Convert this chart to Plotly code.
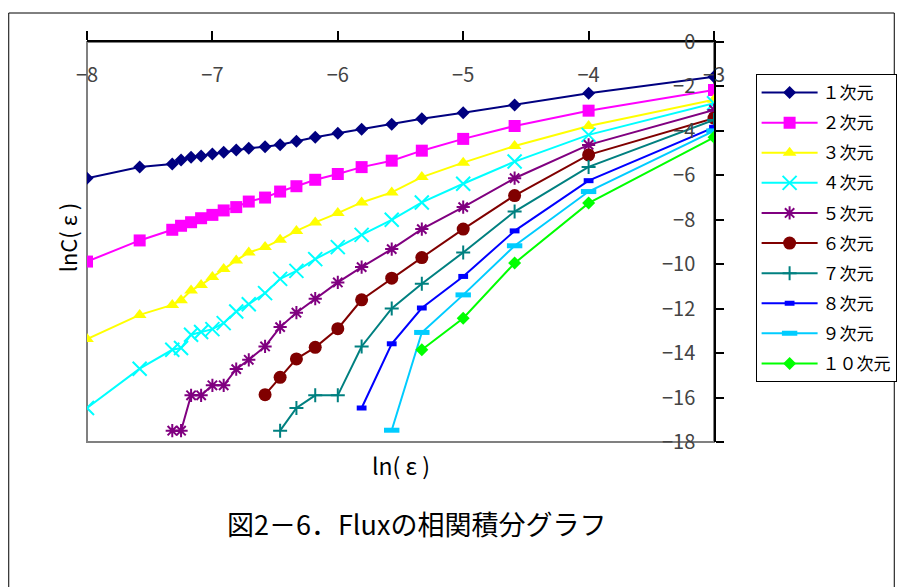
import plotly.graph_objects as go

# ln(epsilon) grid shared by all embedding dimensions
LN_EPS = [-8.00, -7.58, -7.32, -7.25, -7.17, -7.09, -7.00, -6.91, -6.81, -6.71,
          -6.58, -6.46, -6.33, -6.18, -6.00, -5.81, -5.57, -5.33, -5.00, -4.59,
          -4.00, -3.00]

# lnC(epsilon) per embedding dimension (each series ends at the last grid point)
DIM1 = [-6.13, -5.63, -5.49, -5.31, -5.19, -5.13, -5.04, -4.96, -4.86, -4.78,
        -4.71, -4.62, -4.47, -4.29, -4.11, -3.93, -3.70, -3.45, -3.18, -2.83,
        -2.31, -1.56]
DIM2 = [-9.88, -8.93, -8.45, -8.27, -8.11, -7.93, -7.78, -7.58, -7.43, -7.18,
        -7.00, -6.73, -6.49, -6.20, -5.94, -5.63, -5.34, -4.89, -4.36, -3.78,
        -3.09, -2.16]
DIM3 = [-13.37, -12.28, -11.83, -11.62, -11.18, -10.93, -10.58, -10.22, -9.83, -9.47,
        -9.23, -8.90, -8.50, -8.12, -7.70, -7.22, -6.77, -6.08, -5.43, -4.68,
        -3.78, -2.60]
DIM4 = [-16.47, -14.70, -13.85, -13.77, -13.17, -13.05, -12.92, -12.65, -12.13, -11.80,
        -11.30, -10.66, -10.30, -9.77, -9.23, -8.68, -8.00, -7.22, -6.38, -5.38,
        -4.18, -2.76]
DIM5 = [-17.49, -17.49, -15.90, -15.90, -15.45, -15.45, -14.72, -14.30, -13.70, -12.83,
        -12.18, -11.55, -10.82, -10.13, -9.32, -8.42, -7.43, -6.13, -4.63, -3.06]
DIM6 = [-15.87, -15.09, -14.26, -13.74, -12.90, -11.60, -10.63, -9.70, -8.42, -6.91,
        -5.08, -3.43]
DIM7 = [-17.49, -16.47, -15.90, -15.90, -13.70, -11.99, -10.88, -9.47, -7.63, -5.62,
        -3.51]
DIM8 = [-16.47, -13.58, -11.97, -10.55, -8.50, -6.24, -3.84]
DIM9 = [-17.47, -13.07, -11.38, -9.17, -6.73, -4.00]
DIM10 = [-13.85, -12.43, -9.95, -7.25, -4.29]

NAMES = ["１次元", "２次元", "３次元", "４次元", "５次元",
         "６次元", "７次元", "８次元", "９次元", "１０次元"]
SERIES = [DIM1, DIM2, DIM3, DIM4, DIM5, DIM6, DIM7, DIM8, DIM9, DIM10]

X_TICKS = [-8, -7, -6, -5, -4, -3]
Y_TICKS = [0, -2, -4, -6, -8, -10, -12, -14, -16, -18]

# marker styles: (colour, symbol, size, outline width)
STYLES = [
    ("#000080", "diamond", 10, 0),
    ("#FF00FF", "square", 12, 0),
    ("#FFFF00", "triangle-up", 12, 0),
    ("#00FFFF", "x-thin", 14, 2),
    ("#800080", "asterisk-open", 11, 2),
    ("#800000", "circle", 13, 0),
    ("#008080", "cross-thin", 10, 2),
    ("#0000FF", "line-ew", 7, 5),
    ("#00CCFF", "line-ew", 11, 5),
    ("#00FF00", "diamond", 10, 0),
]

W, H = 909, 587
L, R, T, B = 87, 189, 42, 145
FONT = "Noto Sans CJK JP"


def px(x):
    return (x - L) / (W - L - R)


def py(y):
    return (H - B - y) / (H - T - B)


fig = go.Figure()
for name, vals, (col, sym, size, lw) in zip(NAMES, SERIES, STYLES):
    xs = LN_EPS[len(LN_EPS) - len(vals):]
    fig.add_trace(go.Scatter(
        x=xs, y=vals, name=name, legendgroup=name, mode="lines+markers",
        line=dict(color=col, width=2),
        marker=dict(symbol=sym, size=size, color=col,
                    line=dict(color=col, width=lw)),
    ))

fig.update_layout(
    width=W, height=H,
    margin=dict(l=L, r=R, t=T, b=B),
    paper_bgcolor="white", plot_bgcolor="white",
    font=dict(family=FONT, color="black", size=20),
    showlegend=True,
    legend=dict(
        x=px(762), y=py(74), xanchor="left", yanchor="top",
        bordercolor="black", borderwidth=1, bgcolor="white",
        font=dict(family=FONT, size=17), tracegroupgap=5,
        itemwidth=56, entrywidth=80, entrywidthmode="pixels",
    ),
    xaxis=dict(
        range=[-8, -3], side="top", tickvals=X_TICKS,
        showline=True, linecolor="black", linewidth=1.5,
        ticks="outside", ticklen=9, tickcolor="black", tickwidth=1.5,
        ticklabelposition="inside", ticklabelstandoff=27,
        ticklabeloverflow="allow",
        showgrid=False, zeroline=False,
        tickfont=dict(family=FONT, size=20),
    ),
    yaxis=dict(
        range=[-18, 0], side="right", tickvals=Y_TICKS,
        showline=True, linecolor="black", linewidth=1.5,
        ticks="outside", ticklen=8, tickcolor="black", tickwidth=1.5,
        ticklabelposition="inside", ticklabelstandoff=20,
        ticklabeloverflow="allow",
        showgrid=False, zeroline=False,
        tickfont=dict(family=FONT, size=20),
    ),
    shapes=[
        # plot-area frame
        dict(type="rect", xref="paper", yref="paper", x0=0, y0=0, x1=1, y1=1,
             line=dict(color="#808080", width=2), layer="below"),
        # chart-area frame
        dict(type="rect", xref="paper", yref="paper",
             x0=px(8), y0=py(13), x1=px(902), y1=py(600),
             line=dict(color="black", width=1), layer="below"),
    ],
    annotations=[
        dict(text="lnC( ε )", x=px(49), y=py(238), xref="paper", yref="paper",
             textangle=-90, showarrow=False, font=dict(family=FONT, size=22)),
        dict(text="ln( ε )", x=px(404), y=py(484), xref="paper", yref="paper",
             showarrow=False, font=dict(family=FONT, size=23)),
        dict(text="図2－6．Fluxの相関積分グラフ", x=px(420), y=py(545),
             xref="paper", yref="paper", showarrow=False,
             font=dict(family=FONT, size=27)),
    ],
)

fig.write_html("out.html")
